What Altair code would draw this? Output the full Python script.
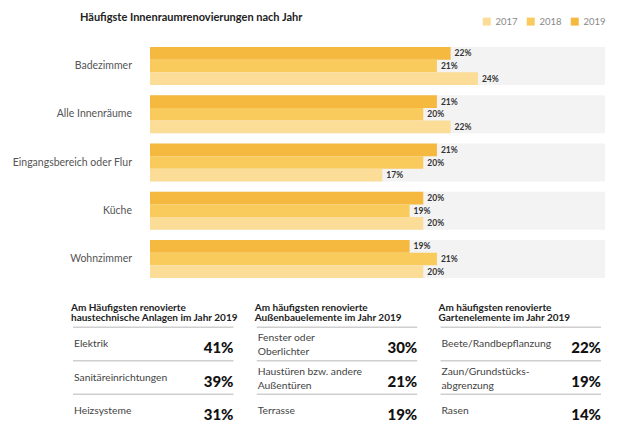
import altair as alt
import pandas as pd

# ---------------- data ----------------
categories = ["Badezimmer", "Alle Innenräume", "Eingangsbereich oder Flur", "Küche", "Wohnzimmer"]
years = ["2017", "2018", "2019"]
values_2019 = [22, 21, 21, 20, 19]
values_2018 = [21, 20, 20, 19, 21]
values_2017 = [24, 22, 17, 20, 20]
year_colors = ["#FCDD98", "#F9CA5C", "#F6B940"]

chart_title = "Häufigste Innenraumrenovierungen nach Jahr"

table_titles = [
    "Am Häufigsten renovierte\nhaustechnische Anlagen im Jahr 2019",
    "Am häufigsten renovierte\nAußenbauelemente im Jahr 2019",
    "Am häufigsten renovierte\nGartenelemente im Jahr 2019",
]
table_items = [
    ["Elektrik", "Sanitäreinrichtungen", "Heizsysteme"],
    ["Fenster oder\nOberlichter", "Haustüren bzw. andere\nAußentüren", "Terrasse"],
    ["Beete/Randbepflanzung", "Zaun/Grundstücks-\nabgrenzung", "Rasen"],
]
table_values = [
    [41, 39, 31],
    [30, 21, 19],
    [22, 19, 14],
]

X_MAX = 33.3  # extent of the grey background track (in %)

# ---------------- tables for the library ----------------
bar_rows = []
for year, vals in zip(["2019", "2018", "2017"], [values_2019, values_2018, values_2017]):
    for cat, v in zip(categories, vals):
        bar_rows.append({"cat": cat, "year": year, "value": v, "label": f"{v}%"})
bars_df = pd.DataFrame(bar_rows)
bg_df = pd.DataFrame({"cat": categories, "start": [0] * len(categories), "end": [X_MAX] * len(categories)})

head_df = pd.DataFrame({"col": [0, 1, 2], "row": [-1, -1, -1], "title": table_titles})
item_rows = []
for c in range(3):
    for r in range(3):
        txt = table_items[c][r]
        item_rows.append({"col": c, "row": r, "item": txt, "lines": txt.count("\n") + 1,
                          "value": table_values[c][r], "label": f"{table_values[c][r]}%"})
items_df = pd.DataFrame(item_rows)
rule_df = pd.DataFrame([{"col": c, "pos": p} for c in range(3) for p in (-0.5, 0.5, 1.5)])

# ---------------- scales ----------------
x_bar = alt.Scale(domain=[0, X_MAX], range=[142, 597], nice=False, zero=True)
y_bar = alt.Scale(domain=categories, range=[39, 270], paddingInner=0.2124, paddingOuter=0)
y_off = alt.Scale(domain=["2019", "2018", "2017"], paddingInner=0, paddingOuter=0)
col_scale = alt.Scale(domain=years, range=year_colors)

x_tab = alt.Scale(type="band", domain=[0, 1, 2], range=[65, 593], paddingInner=0.1265, paddingOuter=0)
y_tab = alt.Scale(domain=[-1, 2], range=[302.5, 403], nice=False, zero=False)

FONT = "Lato"

# ---------------- bar section ----------------
bg = alt.Chart(bg_df).mark_bar(color="#F3F3F3").encode(
    y=alt.Y("cat:N", scale=y_bar, axis=None),
    x=alt.X("start:Q", scale=x_bar, axis=None),
    x2="end:Q",
)
cat_labels = alt.Chart(bg_df).mark_text(
    align="right", baseline="middle", dx=-18, fontSize=10.5, color="#555", font=FONT
).encode(
    y=alt.Y("cat:N", scale=y_bar, axis=None),
    x=alt.X("start:Q", scale=x_bar, axis=None),
    text="cat:N",
)
bars = alt.Chart(bars_df).mark_bar().encode(
    x=alt.X("value:Q", scale=x_bar, axis=None),
    y=alt.Y("cat:N", scale=y_bar, axis=None),
    yOffset=alt.YOffset("year:N", scale=y_off),
    color=alt.Color(
        "year:N", scale=col_scale,
        legend=alt.Legend(
            orient="none", legendX=474, legendY=8.5, direction="horizontal", title=None,
            symbolType="square", symbolSize=64, symbolStrokeWidth=0, symbolOpacity=1,
            labelFontSize=9.5, labelColor="#888", labelFont=FONT,
            columnPadding=8, labelOffset=4, padding=0,
        ),
    ),
)
bar_labels = alt.Chart(bars_df).mark_text(
    align="left", baseline="middle", dx=4, fontSize=8.5, fontWeight="bold", color="#333", font=FONT
).encode(
    x=alt.X("value:Q", scale=x_bar, axis=None),
    y=alt.Y("cat:N", scale=y_bar, axis=None),
    yOffset=alt.YOffset("year:N", scale=y_off),
    text="label:N",
)
bar_group = alt.layer(bg, cat_labels, bars, bar_labels)

# ---------------- table section ----------------
rules = alt.Chart(rule_df).mark_rule(color="#CFCFCF", strokeWidth=1.5).encode(
    x=alt.X("col:O", scale=x_tab, axis=None, bandPosition=0),
    x2=alt.X2("col", bandPosition=1),
    y=alt.Y("pos:Q", scale=y_tab, axis=None),
)
heads = alt.Chart(head_df).mark_text(
    align="left", baseline="middle", fontSize=10, fontWeight="bold", color="#222",
    lineBreak="\n", lineHeight=10.5, dy=-2.75, dx=-2, font=FONT
).encode(
    x=alt.X("col:O", scale=x_tab, axis=None, bandPosition=0),
    y=alt.Y("row:Q", scale=y_tab, axis=None),
    text="title:N",
)
items_one = alt.Chart(items_df).transform_filter("datum.lines == 1").mark_text(
    align="left", baseline="middle", fontSize=10.3, color="#444",
    lineBreak="\n", lineHeight=14, dx=1, font=FONT
).encode(
    x=alt.X("col:O", scale=x_tab, axis=None, bandPosition=0),
    y=alt.Y("row:Q", scale=y_tab, axis=None),
    text="item:N",
)
items_two = alt.Chart(items_df).transform_filter("datum.lines == 2").mark_text(
    align="left", baseline="middle", fontSize=10.3, color="#444",
    lineBreak="\n", lineHeight=14, dx=1, dy=-6, font=FONT
).encode(
    x=alt.X("col:O", scale=x_tab, axis=None, bandPosition=0),
    y=alt.Y("row:Q", scale=y_tab, axis=None),
    text="item:N",
)
vals = alt.Chart(items_df).mark_text(
    align="right", baseline="middle", fontSize=15, fontWeight=900, color="#111", dy=4, font=FONT
).encode(
    x=alt.X("col:O", scale=x_tab, axis=None, bandPosition=1),
    y=alt.Y("row:Q", scale=y_tab, axis=None),
    text="label:N",
)
table_group = alt.layer(rules, heads, items_one, items_two, vals)

# ---------------- title ----------------
title_layer = alt.Chart(pd.DataFrame({"t": [chart_title]})).mark_text(
    align="left", baseline="middle", fontSize=11, fontWeight="bold", color="#222", font=FONT
).encode(x=alt.value(72), y=alt.value(10), text="t:N")

chart = (
    alt.layer(title_layer, bar_group, table_group)
    .resolve_scale(x="independent", y="independent")
    .properties(width=602, height=418, autosize=alt.AutoSizeParams(type="none"), padding=0)
    .configure_view(stroke=None)
)

chart.save("out.html", embed_options={"renderer": "svg", "actions": False})
